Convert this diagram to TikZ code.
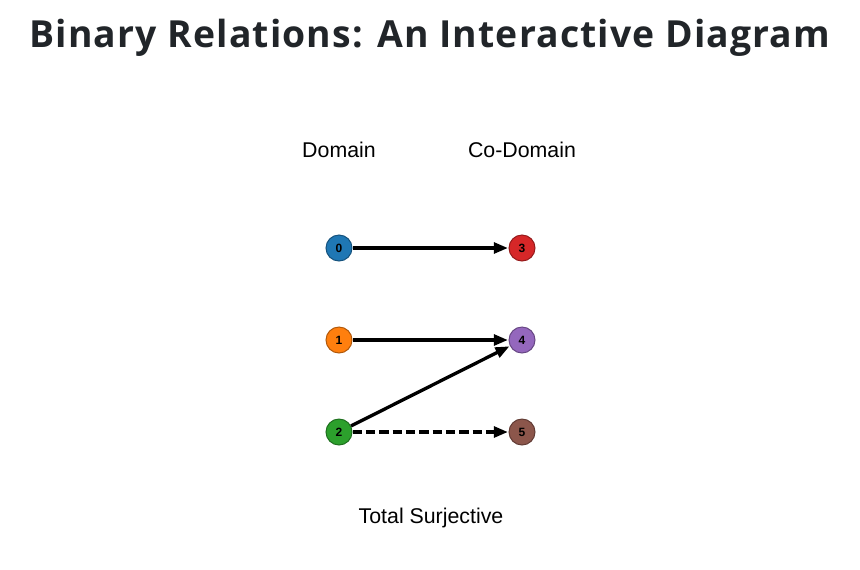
\documentclass[tikz,border=0pt]{standalone}
\usepackage{fontspec}
\setmainfont{Liberation Sans}
\newfontfamily\titlefont{Open Sans}[LetterSpace=3]
\usetikzlibrary{arrows.meta}
\definecolor{titlegray}{HTML}{212529}
\definecolor{cblue}{HTML}{1F77B4}
\definecolor{corange}{HTML}{FF7F0E}
\definecolor{cgreen}{HTML}{2CA02C}
\definecolor{cred}{HTML}{D62728}
\definecolor{cpurple}{HTML}{9467BD}
\definecolor{cbrown}{HTML}{8C564B}

\tikzset{
  elem/.style={circle, minimum size=19.5pt, inner sep=0pt, line width=0.75pt,
    font=\fontsize{9}{10}\selectfont\bfseries},
  rel/.style={line width=2.5pt, -{Triangle[length=10.5pt, width=8pt]}, shorten >=0.4pt},
  caption/.style={anchor=base, font=\fontsize{16}{19}\selectfont},
}

\begin{document}
\begin{tikzpicture}[x=0.75pt, y=-0.75pt]
  \useasboundingbox (0,0) rectangle (860,569);
  % Title
  \node[titlegray, anchor=base, font=\titlefont\fontsize{28}{32}\selectfont\bfseries] (title) at (430,47) {Binary Relations: An Interactive Diagram};

  % Column headings
  \node[caption] (dom) at (339,157) {Domain};
  \node[caption] (codom) at (522,157) {Co-Domain};

  % Domain elements
  \node[elem, fill=cblue, draw=cblue!70!black] (e0) at (339,248) {0};
  \node[elem, fill=corange, draw=corange!70!black] (e1) at (339,340) {1};
  \node[elem, fill=cgreen, draw=cgreen!70!black] (e2) at (339,432) {2};

  % Co-domain elements
  \node[elem, fill=cred, draw=cred!70!black] (e3) at (522,248) {3};
  \node[elem, fill=cpurple, draw=cpurple!70!black] (e4) at (522,340) {4};
  \node[elem, fill=cbrown, draw=cbrown!70!black] (e5) at (522,432) {5};

  % Relation pairs
  \draw[rel] (e0) -- (e3);
  \draw[rel] (e1) -- (e4);
  \draw[rel] (e2) -- (e4);
  \draw[rel, dash pattern=on 7pt off 3pt] (e2) -- (e5);

  % Kind of relation
  \node[caption] (kind) at (431,523) {Total Surjective};
\end{tikzpicture}
\end{document}
